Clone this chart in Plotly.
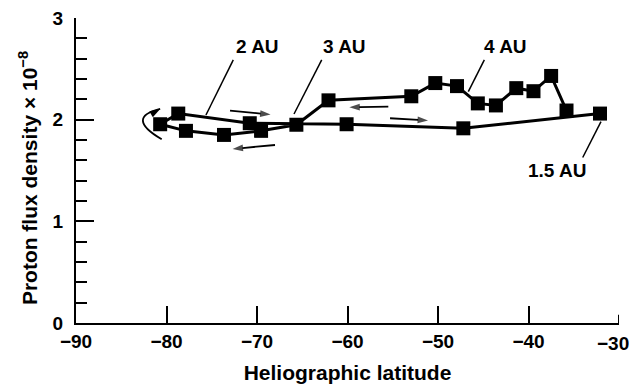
import plotly.graph_objects as go

# Trajectory points in time order (heliographic latitude in degrees, proton flux density x 1e-8)
latitude = [-35.8, -37.5, -39.45, -41.35, -43.6, -45.6, -47.9, -50.3, -52.95,
            -62.1, -65.65, -69.55, -73.65, -77.85, -80.7,
            -78.7, -70.8, -60.1, -47.2, -32.1]
flux = [2.09, 2.43, 2.28, 2.31, 2.14, 2.16, 2.33, 2.36, 2.23,
        2.19, 1.95, 1.89, 1.85, 1.89, 1.955,
        2.06, 1.965, 1.955, 1.915, 2.06]

x_ticks = [-90, -80, -70, -60, -50, -40, -30]
y_ticks = [0, 1, 2, 3]

# distance labels: text, label position, leader line start/end
au_labels = ["2 AU", "3 AU", "4 AU", "1.5 AU"]
au_label_x = [-69.94, -60.28, -42.51, -36.88]
au_label_y = [2.72, 2.72, 2.716, 1.497]
leader_x0 = [-72.62, -62.85, -44.88, -31.99]
leader_y0 = [2.588, 2.588, 2.588, 1.98]
leader_x1 = [-75.64, -65.91, -46.65, -34.01]
leader_y1 = [2.046, 2.056, 2.276, 1.628]

# direction arrows: tail -> head
arrow_tail_x = [-72.98, -68.01, -55.49, -55.30]
arrow_tail_y = [2.089, 1.751, 2.128, 2.014]
arrow_head_x = [-68.5, -72.7, -59.8, -51.1]
arrow_head_y = [2.05, 1.712, 2.122, 1.992]

# curved turn-around arrow (start, control, end)
curve_x = [-80.53, -84.6, -80.7]
curve_y = [1.807, 2.02, 2.105]

FONT = "Liberation Sans, Arial, Helvetica, sans-serif"


def minus(v):
    return f"\u2212{abs(v)}" if v < 0 else str(v)


fig = go.Figure()
fig.add_trace(go.Scatter(
    x=latitude, y=flux, mode="lines+markers",
    line=dict(color="black", width=3),
    marker=dict(symbol="square", size=14, color="black"),
    showlegend=False, hoverinfo="skip",
))

# direction arrows drawn as short lines with an arrow marker at the head
for i in range(len(arrow_tail_x)):
    fig.add_trace(go.Scatter(
        x=[arrow_tail_x[i], arrow_head_x[i]], y=[arrow_tail_y[i], arrow_head_y[i]],
        mode="lines+markers", line=dict(color="black", width=1.8),
        marker=dict(symbol=["circle", "arrow"], size=[0, 11], color="black",
                    angleref="previous", line=dict(width=0)),
        showlegend=False, hoverinfo="skip",
    ))
# arrowhead at end of curved arrow
fig.add_trace(go.Scatter(
    x=[curve_x[2]], y=[curve_y[2]], mode="markers",
    marker=dict(symbol="arrow", size=11, color="black", angle=60, line=dict(width=0)),
    showlegend=False, hoverinfo="skip",
))

shapes = []
for i in range(len(au_labels)):
    shapes.append(dict(type="line", xref="x", yref="y",
                       x0=leader_x0[i], y0=leader_y0[i], x1=leader_x1[i], y1=leader_y1[i],
                       line=dict(color="black", width=1.5)))
shapes.append(dict(type="path", xref="x", yref="y",
                   path=f"M {curve_x[0]},{curve_y[0]} Q {curve_x[1]},{curve_y[1]} {curve_x[2]},{curve_y[2]}",
                   line=dict(color="black", width=1.8)))
# short end tick at the last x value
shapes.append(dict(type="line", xref="x", yref="y",
                   x0=x_ticks[-1], x1=x_ticks[-1], y0=0, y1=0.08,
                   line=dict(color="black", width=2)))

annotations = []
for i in range(len(au_labels)):
    annotations.append(dict(x=au_label_x[i], y=au_label_y[i], xref="x", yref="y",
                            text=au_labels[i], showarrow=False,
                            font=dict(family=FONT, size=19, color="black", weight="bold")))
# last x tick label, nudged left to stay inside the picture
annotations.append(dict(x=x_ticks[-1], y=0, xref="x", yref="y", xanchor="center", yanchor="top",
                        xshift=-6, yshift=-8, text=minus(x_ticks[-1]), showarrow=False,
                        font=dict(family=FONT, size=19, color="black", weight="bold")))
# y-axis title
annotations.append(dict(x=-0.0884, y=0.475, xref="paper", yref="paper",
                        xanchor="center", yanchor="middle", textangle=-90,
                        text="Proton flux density \u00d7 10<sup>\u22128</sup>", showarrow=False,
                        font=dict(family=FONT, size=21, color="black", weight="bold")))

fig.update_layout(
    width=632, height=386,
    margin=dict(l=76, r=13, t=18, b=63),
    paper_bgcolor="white", plot_bgcolor="white",
    font=dict(family=FONT, size=19, color="black", weight="bold"),
    shapes=shapes, annotations=annotations,
    xaxis=dict(
        range=[-90, -30], tickvals=x_ticks[:-1], ticktext=[minus(v) for v in x_ticks[:-1]],
        showline=True, linecolor="black", linewidth=2,
        ticks="inside", ticklen=17, tickwidth=2, tickcolor="black",
        showgrid=False, zeroline=False, automargin=False,
        ticklabeloverflow="allow",
        tickfont=dict(family=FONT, size=19, color="black", weight="bold"),
        ticklabelstandoff=0,
        title=dict(text="Heliographic latitude", standoff=15,
                   font=dict(family=FONT, size=21, color="black", weight="bold")),
    ),
    yaxis=dict(
        range=[0, 3], tickvals=y_ticks,
        showline=True, linecolor="black", linewidth=2,
        ticks="inside", ticklen=18, tickwidth=2, tickcolor="black",
        minor=dict(dtick=0.2, ticks="inside", ticklen=11, tickwidth=1.5, tickcolor="black"),
        showgrid=False, zeroline=False, automargin=False,
        ticklabeloverflow="allow",
        tickfont=dict(family=FONT, size=19, color="black", weight="bold"),
        ticklabelstandoff=7,
    ),
)

fig.write_html("out.html", config={"displayModeBar": False},
               post_script="document.body.style.margin='0px';")
